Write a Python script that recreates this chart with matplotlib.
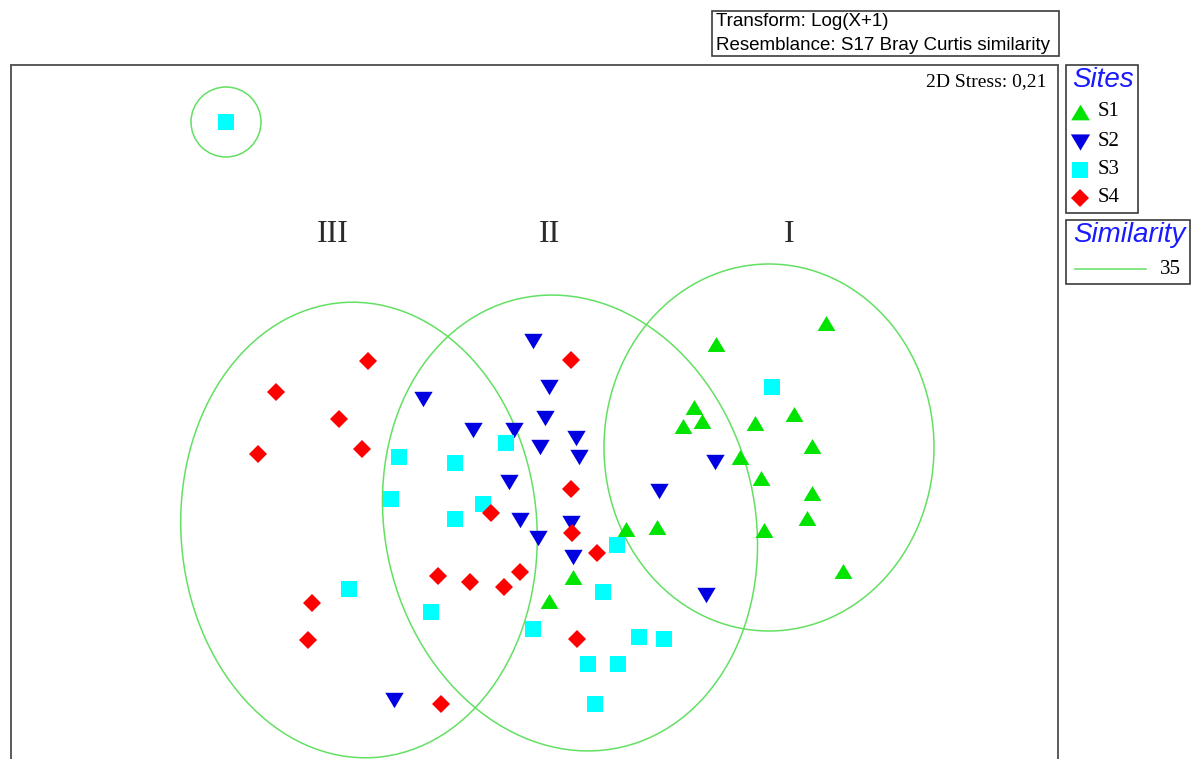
import matplotlib
matplotlib.use("Agg")
import matplotlib.pyplot as plt
from matplotlib.patches import Ellipse, Rectangle

# nMDS ordination scores (MDS1, MDS2) per site
S1_X = [2.86, 1.76, 1.54, 1.62, 1.43, 2.15, 2.54, 2.72, 2.00, 2.21, 2.72, 2.67,
        2.24, 1.17, 0.86, 3.03, 0.33, 0.09]
S1_Y = [0.97, 0.76, 0.13, -0.01, -0.06, -0.03, 0.06, -0.26, -0.37, -0.58, -0.73,
        -0.98, -1.10, -1.07, -1.09, -1.51, -1.57, -1.81]

S2_X = [-0.07, 0.09, -1.17, 0.05, -0.67, -0.26, 0.00, 0.36, 0.39, -0.31, -0.20,
        0.31, -0.02, 0.33, 1.75, 1.19, 1.66, -1.46]
S2_Y = [0.79, 0.33, 0.21, 0.02, -0.10, -0.10, -0.27, -0.18, -0.37, -0.62, -1.00,
        -1.03, -1.18, -1.37, -0.42, -0.71, -1.75, -2.80]

S3_X = [-3.14, -1.41, -1.49, -0.34, -0.85, -0.57, -0.85, 0.77, 2.32, 0.63, -1.91,
        -1.09, -0.07, 0.99, 1.24, 0.48, 0.78, 0.55]
S3_Y = [2.98, -0.37, -0.79, -0.23, -0.43, -0.84, -0.99, -1.25, 0.33, -1.72, -1.69,
        -1.92, -2.09, -2.17, -2.19, -2.44, -2.44, -2.84]

S4_X = [-1.72, -2.64, -2.01, -1.78, -2.82, 0.31, 0.31, -0.49, 0.32, 0.57, -2.28,
        -2.32, -1.02, -0.70, -0.36, -0.20, 0.37, -0.99]
S4_Y = [0.59, 0.28, 0.01, -0.29, -0.34, 0.60, -0.69, -0.93, -1.13, -1.33, -1.83,
        -2.20, -1.56, -1.62, -1.67, -1.52, -2.19, -2.84]

SITES = ["S1", "S2", "S3", "S4"]
GROUP_LABELS = ["III", "II", "I"]
GROUP_LABEL_X = [-2.07, 0.09, 2.49]
GROUP_LABEL_Y = [1.85, 1.85, 1.86]

# 35 % similarity contours: centre x, centre y, width, height, angle
CONT_X = [-1.81, 0.30, 2.29, -3.14]
CONT_Y = [-1.10, -1.03, -0.275, 2.98]
CONT_W = [3.56, 3.70, 3.30, 0.70]
CONT_H = [4.56, 4.60, 3.67, 0.70]
CONT_A = [4, 13, 0, 0]
SIMILARITY = 35
STRESS = "0,21"

# ── styling ───────────────────────────────────────────────────────────────────
W, H = 1192, 759
SANS = ["Liberation Sans", "DejaVu Sans"]
SERIF = ["Liberation Serif", "DejaVu Serif"]
CONT_COLOR = "#63E063"
FRAME_COLOR = "#5a5a5a"

TRI_UP = [(-1, -0.84), (1, -0.84), (0, 0.84)]
TRI_DN = [(-1, 0.84), (1, 0.84), (0, -0.84)]
STYLE = {
    "S1": dict(marker=TRI_UP, color="#00E400", ms=12.8),
    "S2": dict(marker=TRI_DN, color="#0000E0", ms=13.2),
    "S3": dict(marker="s", color="#00FFFF", ms=11.2),
    "S4": dict(marker="D", color="#FF0000", ms=9.2),
}
DATA = {"S1": (S1_X, S1_Y), "S2": (S2_X, S2_Y), "S3": (S3_X, S3_Y), "S4": (S4_X, S4_Y)}

fig = plt.figure(figsize=(W / 100, H / 100), dpi=100)
fig.patch.set_facecolor("white")

# main ordination panel (100 px per MDS unit, origin at pixel 540, 420)
left_px, right_px, top_px = 10.5, 1057.5, 64.5
ax = fig.add_axes([left_px / W, 0, (right_px - left_px) / W, (H - top_px) / H])
ax.set_xlim((left_px - 540) / 100, (right_px - 540) / 100)
ax.set_ylim((420 - H) / 100, (420 - top_px) / 100)
ax.set_xticks([])
ax.set_yticks([])
for side, sp in ax.spines.items():
    sp.set_color(FRAME_COLOR)
    sp.set_linewidth(1.4)
ax.spines["bottom"].set_visible(False)

for cx, cy, cw, ch, ca in zip(CONT_X, CONT_Y, CONT_W, CONT_H, CONT_A):
    ax.add_patch(Ellipse((cx, cy), cw, ch, angle=ca, fill=False,
                         edgecolor=CONT_COLOR, linewidth=1.1, zorder=1))

for site in SITES:
    xs, ys = DATA[site]
    st = STYLE[site]
    ax.plot(xs, ys, linestyle="none", marker=st["marker"], color=st["color"],
            markersize=st["ms"], markeredgewidth=0, zorder=3)

for lab, lx, ly in zip(GROUP_LABELS, GROUP_LABEL_X, GROUP_LABEL_Y):
    ax.text(lx, ly, lab, family=SERIF, fontsize=23, color="#2b2b2b",
            ha="center", va="center")

ax.text(0.9895, 0.976, f"2D Stress: {STRESS}", transform=ax.transAxes,
        family=SERIF, fontsize=14, ha="right", va="center")

# overlay in pixel units for the header box and legends
ov = fig.add_axes([0, 0, 1, 1], facecolor="none")
ov.set_xlim(0, W)
ov.set_ylim(H, 0)
ov.axis("off")

def box(x0, y0, x1, y1):
    ov.add_patch(Rectangle((x0, y0), x1 - x0, y1 - y0, fill=False,
                           edgecolor="#3c3c3c", linewidth=1.2))

box(712, 10.5, 1058.5, 56)
ov.text(716, 22, "Transform: Log(X+1)", family=SANS, fontsize=13.5, va="center")
ov.text(716, 45, "Resemblance: S17 Bray Curtis similarity", family=SANS,
        fontsize=13.5, va="center")

box(1065.5, 64.5, 1137.5, 213)
ov.text(1072, 80, "Sites", family=SANS, style="italic", fontsize=20,
        color="#1a1aff", va="center")
for site, yy in zip(SITES, [112, 142, 170, 198]):
    st = STYLE[site]
    ov.plot([1080], [yy], linestyle="none", marker=st["marker"], color=st["color"],
            markersize=st["ms"] * 1.05, markeredgewidth=0)
    ov.text(1098, yy, site, family=SERIF, fontsize=15, va="center")

box(1065.5, 220, 1190, 284)
ov.text(1073, 235, "Similarity", family=SANS, style="italic", fontsize=20,
        color="#1a1aff", va="center")
ov.plot([1075, 1146], [269, 269], color=CONT_COLOR, linewidth=1.1)
ov.text(1160, 269, str(SIMILARITY), family=SERIF, fontsize=15, va="center")

fig.savefig("out.png", dpi=100, facecolor="white")
